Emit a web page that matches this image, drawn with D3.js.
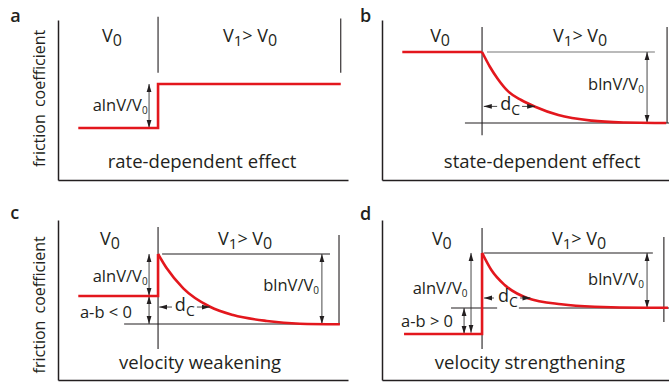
<!DOCTYPE html>
<html>
<head>
<meta charset="utf-8">
<script src="https://cdn.jsdelivr.net/npm/d3@7"></script>
<style>
  body { margin: 0; background: #fff; }
  svg { display: block; font-family: "Open Sans", "Noto Sans", sans-serif; }
  .axis path { stroke: #231f20; stroke-width: 1.5; }
  .ref { stroke: #231f20; stroke-width: 1.1; fill: none; }
  .trace { stroke: #e3171d; stroke-width: 2.6; fill: none; stroke-linejoin: miter; }
  .arr { stroke: #333; stroke-width: 0.9; }
  text { fill: #231f20; }
</style>
</head>
<body>
<div id="chart"></div>
<script>
// ---- values (slip, friction), arbitrary 0-100 units ----
var panelLetters = ["a", "b", "c", "d"];
var captions = ["rate-dependent effect", "state-dependent effect", "velocity weakening", "velocity strengthening"];
var yLabel = "friction coefficient";

// red friction traces: step part (straight) and decay part (smooth)
var stepA = [[7, 32.5], [34.5, 32.5], [34.5, 60], [97.5, 60]];
var decayA = [];
var stepB = [[7, 80], [34.5, 80]];
var decayB = [[34.5, 80], [37.2, 70.8], [40, 63], [43.6, 55.2], [48, 50], [52.8, 45.8], [60.8, 40.6], [72.3, 37.1], [83.8, 35.9], [94.1, 35.6], [98, 35.6]];
var stepC = [[7, 52.5], [34.5, 52.5], [34.5, 78.75]];
var decayC = [[34.5, 78.75], [37.5, 69.8], [43.2, 57.3], [52.4, 45.8], [60.4, 40.6], [72, 36.9], [83.4, 35.2], [97.2, 34.8]];
var stepD = [[7.6, 28.75], [34.5, 28.75], [34.5, 79.4]];
var decayD = [[34.5, 79.4], [37.7, 68.75], [42.3, 59.4], [50.3, 51.1], [61.8, 47.3], [73.3, 45.8], [90.6, 45.2], [98.6, 45.2]];

// step position used by the annotations
var stepX = 34.5;

var svgWidth = 669;
var svgHeight = 384;

var svg = d3.select("#chart")
  .append("svg")
  .attr("width", svgWidth)
  .attr("height", svgHeight);

// arrow heads
var defs = svg.append("defs");
function marker(id, path) {
  defs.append("marker")
    .attr("id", id)
    .attr("viewBox", "0 0 8 6")
    .attr("refX", 8).attr("refY", 3)
    .attr("markerWidth", 8).attr("markerHeight", 6)
    .attr("markerUnits", "userSpaceOnUse")
    .attr("orient", "auto-start-reverse")
    .append("path").attr("d", path).attr("fill", "#231f20");
}
marker("head", "M0,0.6 L8,3 L0,5.4 Z");

// layout of the four panels
var panels = [
  {
    x0: 58, bottom: 180, step: stepA, decay: decayA,
    letter: [-16.5, 98.5], ylab: 51, caption: [49.7, 7.5],
    v0: [15.2, 86], v1: [56.9, 86],
    vlines: [[stepX, 67, 102], [97.5, 67, 101]],
    hlines: [],
    arrows: [[31.4, 32.5, 60]],
    labels: [{ x: 30.9, y: 43, main: "alnV/V", sub: "0" }],
    dc: null
  },
  {
    x0: 382, bottom: 180, step: stepB, decay: decayB,
    letter: [-7.6, 98.5], ylab: null, caption: [55.2, 7.5],
    v0: [16.6, 86], v1: [59, 86],
    vlines: [[stepX, 28, 95.6], [98.3, 35.6, 95.6]],
    hlines: [[80, 36.2, 94.1, "#777"], [35.6, 28.6, 99.5]],
    arrows: [[91.4, 35.6, 80]],
    labels: [{ x: 90.3, y: 56, main: "blnV/V", sub: "0" }],
    dc: { y: 46, a: [35.1, 39.7], t: 40.8, b: [48.3, 52.8] }
  },
  {
    x0: 58, bottom: 380, step: stepC, decay: decayC,
    letter: [-16.5, 100.6], ylab: 47, caption: [49, 6.9],
    v0: [14.5, 84.4], v1: [55.2, 84.4],
    vlines: [[stepX, 19.4, 95.6], [96.9, 35, 90.6]],
    hlines: [[78.75, 35.9, 93.8], [35, 22.8, 97.2]],
    arrows: [[31.4, 52.5, 78.75], [31.4, 35, 52.5], [91, 35, 78.75]],
    labels: [{ x: 30.9, y: 61.25, main: "alnV/V", sub: "0" },
             { x: 25.5, y: 38.75, main: "a-b < 0" },
             { x: 90, y: 55.6, main: "blnV/V", sub: "0" }],
    dc: { y: 45.6, a: [34.9, 39.3], t: 40.3, b: [47.9, 52.4] }
  },
  {
    x0: 382, bottom: 380, step: stepD, decay: decayD,
    letter: [-7.6, 100], ylab: null, caption: [51, 6.9],
    v0: [17.2, 84.4], v1: [58.6, 84.4],
    vlines: [[stepX, 19.4, 95], [97.2, 36.25, 89.4]],
    hlines: [[79.4, 35.2, 93.4], [45, 23.8, 39.7], [45, 47.2, 99.5]],
    arrows: [[30.7, 29.5, 79.4], [28.3, 28.75, 45], [91.4, 45, 79.4]],
    labels: [{ x: 29.5, y: 53.75, main: "alnV/V", sub: "0" },
             { x: 24.5, y: 33, main: "a-b > 0" },
             { x: 90.3, y: 59.4, main: "blnV/V", sub: "0" }],
    dc: { y: 51.25, a: [35.2, 38.6], t: 40, b: [47.6, 51.2] }
  }
];

panels.forEach(function(p, i) {
  var x = d3.scaleLinear().domain([0, 100]).range([p.x0, p.x0 + 290]);
  var y = d3.scaleLinear().domain([0, 100]).range([p.bottom, p.bottom - 160]);
  var g = svg.append("g");

  // axes (plain lines, no ticks)
  g.append("g").attr("class", "axis")
    .attr("transform", "translate(0," + p.bottom + ")")
    .call(d3.axisBottom(x).tickValues([]).tickSizeOuter(0));
  g.append("g").attr("class", "axis")
    .attr("transform", "translate(" + p.x0 + ",0)")
    .call(d3.axisLeft(y).tickValues([]).tickSizeOuter(0));

  // reference lines
  p.vlines.forEach(function(v) {
    g.append("line").attr("class", "ref")
      .attr("x1", x(v[0])).attr("x2", x(v[0]))
      .attr("y1", y(v[1])).attr("y2", y(v[2]));
  });
  p.hlines.forEach(function(h) {
    g.append("line").attr("class", "ref")
      .attr("x1", x(h[1])).attr("x2", x(h[2]))
      .attr("y1", y(h[0])).attr("y2", y(h[0]))
      .style("stroke", h[3] || null);
  });

  // double headed arrows
  p.arrows.forEach(function(a) {
    g.append("line").attr("class", "arr")
      .attr("x1", x(a[0])).attr("x2", x(a[0]))
      .attr("y1", y(a[1])).attr("y2", y(a[2]))
      .attr("marker-start", "url(#head)")
      .attr("marker-end", "url(#head)");
  });

  // red trace
  var line = d3.line().x(d => x(d[0])).y(d => y(d[1]));
  g.append("path").attr("class", "trace")
    .attr("d", line(p.step));
  if (p.decay.length) {
    g.append("path").attr("class", "trace")
      .attr("d", line.curve(d3.curveMonotoneX)(p.decay));
  }

  // d_c arrows
  if (p.dc) {
    g.append("line").attr("class", "arr")
      .attr("x1", x(p.dc.a[1])).attr("x2", x(p.dc.a[0]))
      .attr("y1", y(p.dc.y)).attr("y2", y(p.dc.y))
      .attr("marker-end", "url(#head)");
    g.append("line").attr("class", "arr")
      .attr("x1", x(p.dc.b[0])).attr("x2", x(p.dc.b[1]))
      .attr("y1", y(p.dc.y)).attr("y2", y(p.dc.y))
      .attr("marker-end", "url(#head)");
    var t = g.append("text")
      .attr("x", x(p.dc.t)).attr("y", y(p.dc.y) + 4)
      .style("font-size", "18px");
    t.append("tspan").text("d");
    t.append("tspan").attr("dy", 5).style("font-size", "14px").text("C");
  }

  // labels at arrows
  p.labels.forEach(function(l) {
    var t = g.append("text")
      .attr("x", x(l.x)).attr("y", y(l.y))
      .attr("text-anchor", "end")
      .style("font-size", "16.5px");
    t.append("tspan").text(l.main);
    if (l.sub) t.append("tspan").attr("dy", 3).style("font-size", "10px").text(l.sub);
  });

  // regime labels
  var v0 = g.append("text").attr("x", x(p.v0[0])).attr("y", y(p.v0[1])).style("font-size", "18px");
  v0.append("tspan").text("V");
  v0.append("tspan").attr("dy", 4).style("font-size", "16px").text("0");
  var v1 = g.append("text").attr("x", x(p.v1[0])).attr("y", y(p.v1[1])).style("font-size", "18px");
  v1.append("tspan").text("V");
  v1.append("tspan").attr("dy", 4).style("font-size", "15px").text("1");
  v1.append("tspan").attr("dy", -4).text("> V");
  v1.append("tspan").attr("dy", 4).style("font-size", "16px").text("0");

  // caption
  g.append("text")
    .attr("x", x(p.caption[0])).attr("y", y(p.caption[1]))
    .attr("text-anchor", "middle")
    .style("font-size", "18.5px")
    .text(captions[i]);

  // panel letter
  g.append("text")
    .attr("x", x(p.letter[0])).attr("y", y(p.letter[1]))
    .style("font-size", "18px").style("font-weight", "600")
    .text(panelLetters[i]);

  // y label
  if (p.ylab !== null) {
    g.append("text")
      .attr("transform", "translate(" + (p.x0 - 13) + "," + y(p.ylab) + ") rotate(-90)")
      .attr("text-anchor", "middle")
      .style("font-size", "16px")
      .style("word-spacing", "3px")
      .text(yLabel);
  }
});
</script>
</body>
</html>
